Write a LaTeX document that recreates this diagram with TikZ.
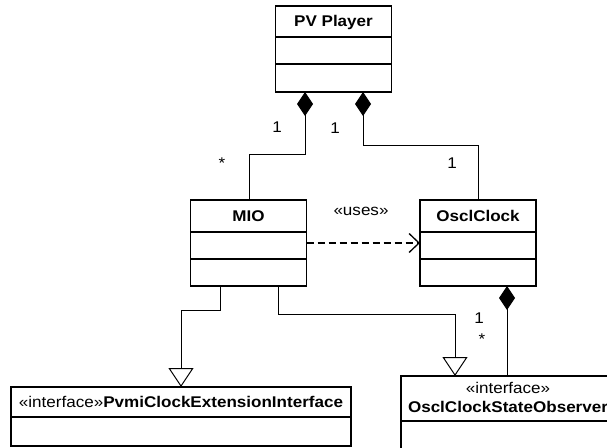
\documentclass[tikz,border=0pt]{standalone}
\usepackage{fontspec}
\setmainfont{Liberation Sans}[FakeStretch=1.1]
\usetikzlibrary{arrows.meta,calc}
\begin{document}
\begin{tikzpicture}[x=1pt,y=-1pt,
  cls/.style={draw, line width=1.3pt, inner sep=0pt, outer sep=0pt, minimum width=116pt, minimum height=86pt, anchor=north west},
  ibox/.style={draw, line width=1.3pt, inner sep=0pt, outer sep=0pt, anchor=north west},
  ttl/.style={font=\fontsize{15.5}{18}\selectfont\bfseries, inner sep=0pt},
  lbl/.style={font=\fontsize{15.5}{18}\selectfont, inner sep=0pt},
  conn/.style={line width=1pt, draw=black},
  comp/.style={conn, {Diamond[length=24pt,width=16pt]}-},
  real/.style={conn, -{Triangle[open,length=19pt,width=25pt,fill=white]}},
  dep/.style={line width=1.3pt, dash pattern=on 7pt off 4pt, -{Straight Barb[length=10pt,width=19pt]}},
  divl/.style={line width=1.3pt}
]
\useasboundingbox (0,0) rectangle (607,447);
\clip (0,0) rectangle (607,447);

% classes
\node[cls] (pvp) at (275.5,6) {};
\node[ttl] (pvpt) at ($(pvp.north)+(0,16)$) {PV Player};
\draw[divl] (pvp.north west) ++(0,31) -- ++(116,0);
\draw[divl] (pvp.north west) ++(0,58) -- ++(116,0);

\node[cls] (mio) at (190.5,200) {};
\node[ttl] (miot) at ($(mio.north)+(0,16)$) {MIO};
\draw[divl] (mio.north west) ++(0,32) -- ++(116,0);
\draw[divl] (mio.north west) ++(0,59) -- ++(116,0);

\node[cls] (oc) at (420,200) {};
\node[ttl] (oct) at ($(oc.north)+(0,16)$) {OsclClock};
\draw[divl] (oc.north west) ++(0,32) -- ++(116,0);
\draw[divl] (oc.north west) ++(0,59) -- ++(116,0);

\node[ibox, minimum width=340pt, minimum height=59pt] (pvmi) at (11,387) {};
\node[lbl] (pvmit) at ($(pvmi.north)+(0,15)$) {«interface»\textbf{PvmiClockExtensionInterface}};
\draw[divl] (pvmi.north west) ++(0,30) -- ++(340,0);

\node[ibox, minimum width=214pt, minimum height=100pt] (obs) at (401,376) {};
\node[lbl] (obss) at ($(obs.north)+(0,12)$) {«interface»};
\node[ttl] (obst) at ($(obs.north)+(0,30.5)$) {OsclClockStateObserver};
\draw[divl] (obs.north west) ++(0,45) -- ++(214,0);

% connector end points
\coordinate (d1) at ($(pvp.south west)+(29.5,0)$);
\coordinate (d2) at ($(pvp.south west)+(87.5,0)$);
\coordinate (m1) at ($(mio.north west)+(58.5,0)$);
\coordinate (o1) at ($(oc.north west)+(58,0)$);
\coordinate (m2) at ($(mio.south west)+(29.5,0)$);
\coordinate (m3) at ($(mio.south west)+(87.5,0)$);
\coordinate (p1) at ($(pvmi.north west)+(170,0)$);
\coordinate (s1) at ($(obs.north west)+(54,0)$);
\coordinate (o2) at ($(oc.south west)+(87,0)$);

% composition
\draw[comp] (d1) -- ++(0,62) -| (m1);
\draw[comp] (d2) -- ++(0,53) -| (o1);
\draw[comp] (o2) -- (o2 |- obs.north);

% dependency
\draw[dep] (mio.east) -- (oc.west);

% realizations
\draw[real] (m2) -- ++(0,24) -| (p1);
\draw[real] (m3) -- ++(0,28) -| (s1);

% labels
\node[lbl] (l1) at (277,127) {1};
\node[lbl] (l2) at (335,128) {1};
\node[lbl] (l3) at (222,163) {*};
\node[lbl] (l4) at (452,163) {1};
\node[lbl] (uses) at (361,211) {«uses»};
\node[lbl] (l5) at (479,318) {1};
\node[lbl] (l6) at (482,339) {*};
\end{tikzpicture}
\end{document}
